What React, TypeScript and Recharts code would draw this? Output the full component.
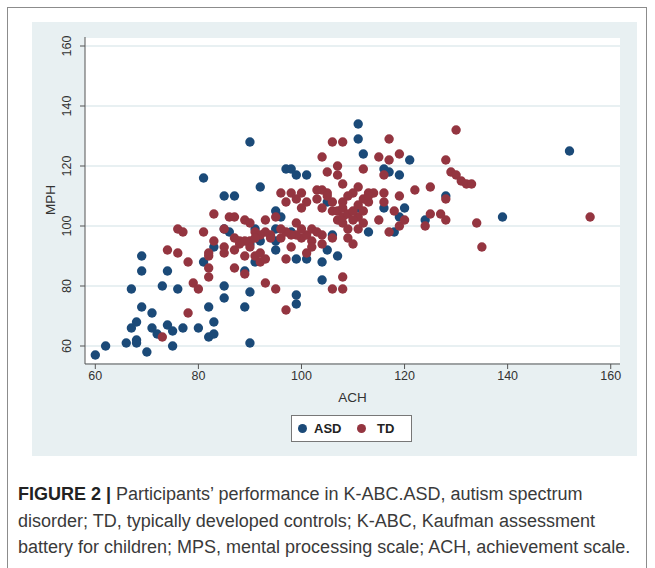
import { ScatterChart, Scatter, XAxis, YAxis, CartesianGrid } from 'recharts';

// ASD group: achievement (ACH) vs mental processing (MPH)
const asdAch = [60, 62, 66, 67, 67, 68, 68, 68, 69, 69, 69, 70, 71, 71, 72, 73, 74, 74, 75, 75, 76, 77, 80, 81, 81, 82, 82, 83, 83, 83, 85, 87, 85, 85, 86, 85, 89, 89, 90, 90, 90, 90, 91, 91, 92, 92, 95, 95, 95, 95, 96, 97, 98, 99, 101, 98, 99, 101, 99, 99, 104, 104, 105, 107, 106, 105, 111, 111, 112, 111, 113, 116, 117, 116, 118, 119, 120, 119, 121, 124, 128, 139, 152];
const asdMph = [57, 60, 61, 66, 79, 68, 62, 61, 90, 85, 73, 58, 71, 66, 64, 80, 67, 85, 65, 60, 79, 66, 66, 116, 88, 73, 63, 64, 68, 93, 110, 110, 80, 76, 98, 99, 73, 85, 61, 128, 78, 94, 99, 88, 113, 95, 105, 99, 92, 95, 103, 119, 119, 117, 117, 98, 89, 89, 77, 74, 88, 82, 92, 90, 97, 108, 134, 129, 124, 106, 98, 119, 118, 106, 98, 117, 106, 103, 122, 102, 110, 103, 125];

// TD group
const tdAch = [73, 74, 76, 77, 76, 78, 78, 79, 80, 81, 82, 82, 82, 82, 83, 83, 85, 85, 85, 86, 87, 87, 87, 88, 89, 89, 89, 90, 90, 91, 91, 92, 92, 93, 93, 93, 94, 95, 95, 96, 96, 97, 97, 97, 98, 98, 99, 99, 100, 100, 101, 101, 102, 102, 103, 104, 104, 104, 105, 105, 106, 106, 106, 106, 107, 107, 107, 108, 108, 108, 108, 108, 108, 109, 109, 110, 110, 111, 111, 111, 112, 112, 113, 113, 114, 115, 115, 116, 116, 116, 117, 117, 117, 118, 119, 119, 119, 120, 122, 124, 125, 125, 127, 128, 128, 128, 129, 130, 130, 131, 132, 133, 134, 135, 156, 100, 101, 103, 104, 105, 106, 107, 108, 108, 109, 109, 110, 110, 111, 112, 112, 113, 104, 103, 99, 100, 102, 98, 97, 96, 94, 93, 92, 91, 90, 89, 88, 87];
const tdMph = [63, 92, 99, 98, 91, 88, 71, 81, 79, 98, 91, 90, 86, 83, 104, 95, 99, 93, 91, 103, 103, 92, 86, 95, 102, 90, 84, 101, 95, 98, 90, 88, 91, 102, 89, 81, 97, 79, 103, 111, 96, 72, 108, 89, 111, 93, 101, 109, 106, 96, 91, 97, 99, 95, 112, 123, 106, 94, 118, 111, 128, 79, 105, 96, 120, 117, 102, 128, 114, 83, 79, 108, 101, 99, 96, 94, 111, 113, 103, 99, 119, 105, 111, 108, 111, 123, 102, 117, 111, 108, 129, 122, 98, 105, 124, 110, 100, 102, 112, 100, 113, 104, 104, 122, 109, 102, 118, 117, 132, 115, 114, 114, 101, 93, 103, 111, 108, 109, 112, 110, 108, 105, 103, 106, 104, 110, 102, 105, 107, 101, 109, 110, 97, 98, 97, 99, 93, 97, 98, 99, 96, 98, 97, 96, 93, 95, 94, 96];

const xTicks = [60, 80, 100, 120, 140, 160];
const yTicks = [60, 80, 100, 120, 140, 160];

const ASD_COLOR = '#1b4a78';
const TD_COLOR = '#943540';
const PANEL = '#e8f0f2';
const FONT = '"Liberation Sans", Arial, sans-serif';

const asdData = asdAch.map((x, i) => ({ x, y: asdMph[i] }));
const tdData = tdAch.map((x, i) => ({ x, y: tdMph[i] }));

const dot = (color: string) => (props: any) => (
  <circle cx={props.cx} cy={props.cy} r={4.7} fill={color} />
);

const YTick = ({ x, y, payload }: any) => (
  <text
    x={x - 11}
    y={y}
    transform={`rotate(-90, ${x - 11}, ${y})`}
    textAnchor="middle"
    dominantBaseline="central"
    fontSize={12.5}
    fill="#333"
    fontFamily={FONT}
  >
    {payload.value}
  </text>
);

export default function App() {
  return (
    <div style={{ position: 'absolute', left: 0, top: 0, width: 655, height: 568, background: '#fff', overflow: 'hidden', fontFamily: FONT }}>
      {/* figure frame */}
      <div style={{ position: 'absolute', left: 7, top: 7, width: 638, height: 620, border: '1.5px solid #8c8c8c' }} />

      {/* stata panel */}
      <div style={{ position: 'absolute', left: 32, top: 22, width: 605, height: 434, background: PANEL }}>
        <ScatterChart width={605} height={434} margin={{ top: 15, right: 17, left: 0, bottom: 0 }}>
          <CartesianGrid vertical={false} fill="#fff" stroke={PANEL} strokeWidth={2} />
          <XAxis
            type="number"
            dataKey="x"
            domain={[58, 161.8]}
            ticks={xTicks}
            allowDataOverflow
            height={92}
            tickSize={5}
            tick={{ fontSize: 12.5, fill: '#333', fontFamily: FONT }}
            axisLine={{ stroke: '#555' }}
            tickLine={{ stroke: '#555' }}
            label={{ value: 'ACH', position: 'insideTop', offset: 28, fontSize: 13.5, fill: '#333', fontFamily: FONT }}
          />
          <YAxis
            type="number"
            dataKey="y"
            domain={[54, 163]}
            ticks={yTicks}
            allowDataOverflow
            width={53}
            tickSize={5}
            tick={<YTick />}
            axisLine={{ stroke: '#555' }}
            tickLine={{ stroke: '#555' }}
          />
          <Scatter data={asdData} fill={ASD_COLOR} shape={dot(ASD_COLOR)} isAnimationActive={false} />
          <Scatter data={tdData} fill={TD_COLOR} shape={dot(TD_COLOR)} isAnimationActive={false} />
        </ScatterChart>

        {/* y axis title */}
        <div style={{ position: 'absolute', left: 18, top: 178, transform: 'translate(-50%, -50%) rotate(-90deg)', fontSize: 13.5, color: '#333' }}>
          MPH
        </div>

        {/* legend */}
        <div style={{ position: 'absolute', left: 259, top: 393, width: 119, height: 25, border: '1.5px solid #777', background: '#fff', fontSize: 13, fontWeight: 'bold', color: '#222' }}>
          <span style={{ position: 'absolute', left: 6, top: 8, width: 9, height: 9, borderRadius: '50%', background: ASD_COLOR }} />
          <span style={{ position: 'absolute', left: 22, top: 5 }}>ASD</span>
          <span style={{ position: 'absolute', left: 65, top: 8, width: 9, height: 9, borderRadius: '50%', background: TD_COLOR }} />
          <span style={{ position: 'absolute', left: 85, top: 5 }}>TD</span>
        </div>
      </div>

      {/* caption */}
      <div style={{ position: 'absolute', left: 18, top: 481, fontSize: 18, lineHeight: '26.5px', color: '#3a3a3a', whiteSpace: 'nowrap' }}>
        <div><b style={{ color: '#222' }}>FIGURE 2 |</b> Participants’ performance in K-ABC.ASD, autism spectrum</div>
        <div>disorder; TD, typically developed controls; K-ABC, Kaufman assessment</div>
        <div>battery for children; MPS, mental processing scale; ACH, achievement scale.</div>
      </div>
    </div>
  );
}
